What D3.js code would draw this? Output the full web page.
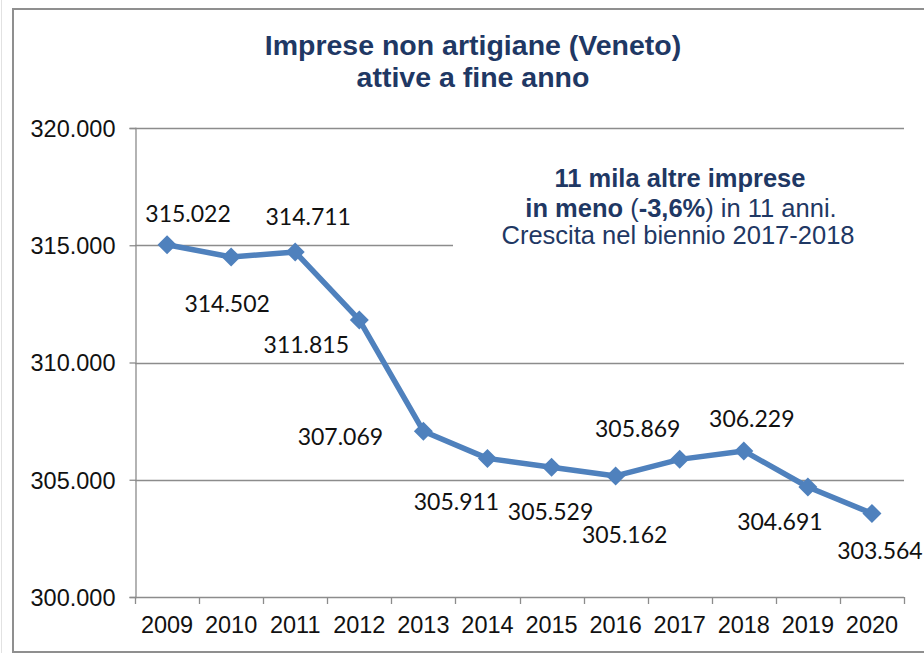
<!DOCTYPE html>
<html>
<head>
<meta charset="utf-8">
<script src="https://cdn.jsdelivr.net/npm/d3@7"></script>
<style>
  html, body { margin: 0; padding: 0; background: #fff; }
  svg { display: block; }
</style>
</head>
<body>
<svg id="chart" width="924" height="653"></svg>
<script>
// ---- Data ----
const years = ["2009","2010","2011","2012","2013","2014","2015","2016","2017","2018","2019","2020"];
const values = [315022, 314502, 314711, 311815, 307069, 305911, 305529, 305162, 305869, 306229, 304691, 303564];
const yTicks = [300000, 305000, 310000, 315000, 320000];
const titleLines = ["Imprese non artigiane (Veneto)", "attive a fine anno"];
// label placement offsets (dx, dy relative to point) – layout only
const labelOffsets = [[21,-23],[-4,55],[13,-27],[-53,33],[-83,14],[-31,52],[-1,53],[9,67],[-42,-22],[8,-24],[-28,43],[8,46]];

// ---- Layout ----
const svg = d3.select("#chart");
const plot = { left: 135, right: 904, top: 128, bottom: 597 };
const navy = "#1f3864";
const gridColor = "#8c8c8c";
const lineColor = "#4f81bd";

const x = d3.scaleBand().domain(years).range([plot.left, plot.right]).padding(0);
const y = d3.scaleLinear().domain([300000, 320000]).range([plot.bottom, plot.top]);
const fmt = v => d3.format(",")(v).replace(/,/g, ".");

// faint outer edge + frame
svg.append("line").attr("x1", 1.5).attr("x2", 1.5).attr("y1", 0).attr("y2", 653)
  .attr("stroke", "#e2e2e2").attr("stroke-width", 1);
svg.append("rect").attr("x", 13).attr("y", 9).attr("width", 960).attr("height", 643)
  .attr("fill", "#fff").attr("stroke", "#8f8f8f").attr("stroke-width", 2);

// gridlines
svg.append("g").selectAll("line").data(yTicks.filter(d => d > 300000)).join("line")
  .attr("x1", plot.left).attr("x2", plot.right)
  .attr("y1", d => Math.round(y(d)) + 0.5).attr("y2", d => Math.round(y(d)) + 0.5)
  .attr("stroke", gridColor).attr("stroke-width", 1.3);

// white annotation box covering part of a gridline
svg.append("rect").attr("x", 453).attr("y", 150).attr("width", plot.right - 453 + 1).attr("height", 110)
  .attr("fill", "#fff");

// y axis
const yAxis = d3.axisLeft(y).tickValues(yTicks).tickSize(6).tickPadding(14).tickFormat(fmt);
const gy = svg.append("g").attr("transform", `translate(${plot.left + 0.5},0)`).call(yAxis);
gy.select(".domain").attr("stroke", gridColor).attr("stroke-width", 1.3);
gy.selectAll(".tick line").attr("stroke", gridColor).attr("stroke-width", 1.3);
gy.selectAll(".tick text").attr("font-family", "'Liberation Sans', Arial, sans-serif")
  .attr("font-size", 23.5).attr("fill", "#111").attr("dy", "0.36em");

// x axis
const xAxis = d3.axisBottom(x).tickSize(0).tickPadding(19);
const gx = svg.append("g").attr("transform", `translate(0,${plot.bottom + 0.5})`).call(xAxis);
gx.select(".domain").remove();
gx.selectAll(".tick text").attr("font-family", "'Liberation Sans', Arial, sans-serif")
  .attr("font-size", 23.5).attr("fill", "#111");
svg.append("line").attr("x1", plot.left).attr("x2", plot.right)
  .attr("y1", plot.bottom + 0.5).attr("y2", plot.bottom + 0.5)
  .attr("stroke", gridColor).attr("stroke-width", 1.3);
const edges = years.map(d => x(d)).concat([x(years[years.length - 1]) + x.bandwidth()]);
svg.append("g").selectAll("line").data(edges).join("line")
  .attr("x1", d => Math.round(d) + 0.5).attr("x2", d => Math.round(d) + 0.5)
  .attr("y1", plot.bottom).attr("y2", plot.bottom + 7)
  .attr("stroke", gridColor).attr("stroke-width", 1.3);

// line
const pts = years.map((yr, i) => ({ yr, v: values[i], px: x(yr) + x.bandwidth() / 2, py: y(values[i]) }));
svg.append("path").datum(pts)
  .attr("d", d3.line().x(d => d.px).y(d => d.py))
  .attr("fill", "none").attr("stroke", lineColor).attr("stroke-width", 5.5).attr("stroke-linejoin", "round");

// markers
svg.append("g").selectAll("path").data(pts).join("path")
  .attr("transform", d => `translate(${d.px},${d.py})`)
  .attr("d", "M0,-9.5L9.5,0L0,9.5L-9.5,0Z")
  .attr("fill", lineColor);

// data labels
svg.append("g").selectAll("text").data(pts).join("text")
  .attr("x", (d, i) => d.px + labelOffsets[i][0])
  .attr("y", (d, i) => d.py + labelOffsets[i][1])
  .attr("text-anchor", "middle")
  .attr("font-family", "Lato, 'Open Sans', sans-serif")
  .attr("font-size", 23).attr("fill", "#111")
  .text(d => fmt(d.v));

// title
svg.append("g").selectAll("text").data(titleLines).join("text")
  .attr("x", 473).attr("y", (d, i) => 55 + i * 32)
  .attr("text-anchor", "middle")
  .attr("font-family", "'Liberation Sans', Arial, sans-serif")
  .attr("font-weight", "bold").attr("font-size", 28.5).attr("fill", navy)
  .text(d => d);

// annotation
const ann = svg.append("text").attr("text-anchor", "middle")
  .attr("font-family", "'Liberation Sans', Arial, sans-serif")
  .attr("font-size", 25.5).attr("fill", navy);
ann.append("tspan").attr("x", 680).attr("y", 187).attr("font-weight", "bold").text("11 mila altre imprese");
const l2 = ann.append("tspan").attr("x", 681).attr("y", 217);
l2.append("tspan").attr("font-weight", "bold").text("in meno ");
l2.append("tspan").text("(");
l2.append("tspan").attr("font-weight", "bold").text("-3,6%");
l2.append("tspan").text(") in 11 anni.");
ann.append("tspan").attr("x", 678).attr("y", 244).text("Crescita nel biennio 2017-2018");
</script>
</body>
</html>
